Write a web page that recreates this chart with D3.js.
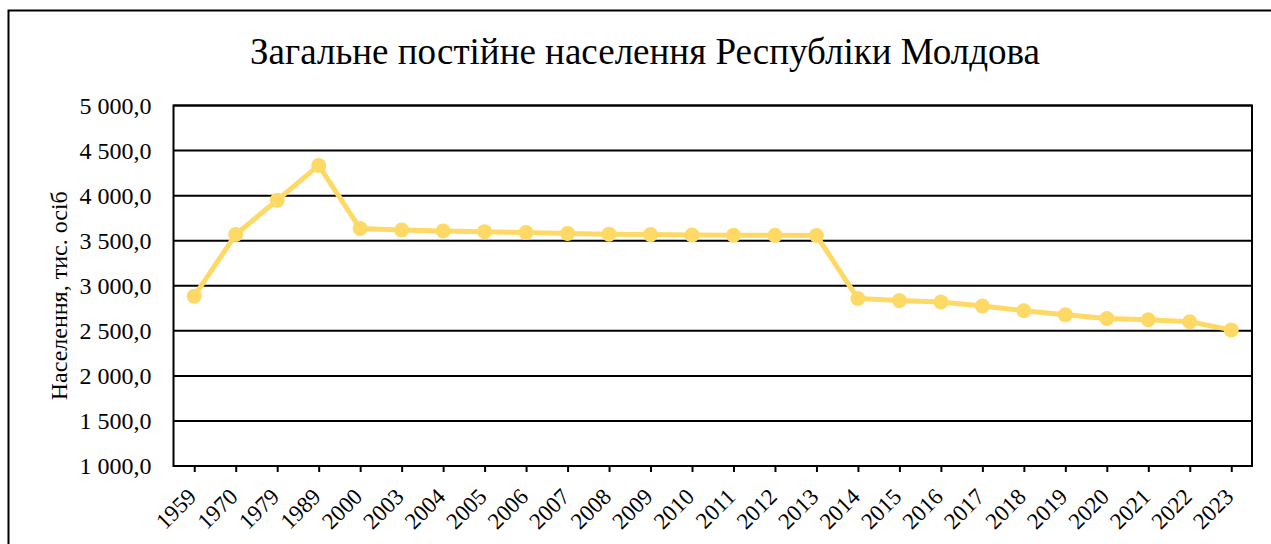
<!DOCTYPE html>
<html>
<head>
<meta charset="utf-8">
<script src="https://cdn.jsdelivr.net/npm/d3@7"></script>
<style>
  body { margin: 0; background: #fff; }
  svg { display: block; }
  svg text { font-family: "Liberation Serif", "Times New Roman", serif; }
</style>
</head>
<body>
<div id="chart"></div>
<script>
const WIDTH = 1271;
const HEIGHT = 544;

const TITLE = "Загальне постійне населення Республіки Молдова";
const Y_LABEL = "Населення, тис. осіб";

const years = [
  "1959", "1970", "1979", "1989", "2000", "2003", "2004", "2005", "2006",
  "2007", "2008", "2009", "2010", "2011", "2012", "2013", "2014", "2015",
  "2016", "2017", "2018", "2019", "2020", "2021", "2022", "2023"
];
const population = [
  2884.5, 3568.9, 3949.8, 4335.4, 3635.0, 3618.3, 3607.4, 3600.4, 3589.9,
  3581.1, 3572.7, 3567.5, 3563.7, 3560.4, 3559.5, 3557.6, 2857.8, 2835.0,
  2820.0, 2775.0, 2723.0, 2677.0, 2637.0, 2622.0, 2600.0, 2510.0
];
const yTicks = [1000, 1500, 2000, 2500, 3000, 3500, 4000, 4500, 5000];

const plot = { left: 173.5, right: 1252, top: 105.5, bottom: 466 };

const fmt = v => d3.format(",.1f")(v).replace(/,/g, " ").replace(".", ",");

const svg = d3.select("#chart").append("svg")
  .attr("width", WIDTH)
  .attr("height", HEIGHT);

// chart area border (runs off the right and bottom edges)
svg.append("rect")
  .attr("x", 8.5).attr("y", 10.5)
  .attr("width", WIDTH + 20).attr("height", HEIGHT + 20)
  .attr("fill", "#fff")
  .attr("stroke", "#000")
  .attr("stroke-width", 2);

const x = d3.scalePoint()
  .domain(years)
  .range([plot.left, plot.right])
  .padding(0.5);

const y = d3.scaleLinear()
  .domain([1000, 5000])
  .range([plot.bottom, plot.top]);

// title
svg.append("text")
  .attr("x", 645)
  .attr("y", 64)
  .attr("text-anchor", "middle")
  .attr("font-size", 37)
  .attr("fill", "#000")
  .text(TITLE);

// gridlines
svg.append("g")
  .selectAll("line")
  .data(yTicks)
  .join("line")
  .attr("x1", plot.left).attr("x2", plot.right)
  .attr("y1", d => y(d)).attr("y2", d => y(d))
  .attr("stroke", "#000")
  .attr("stroke-width", 2);

// y axis labels
const yAxis = svg.append("g")
  .attr("transform", `translate(${plot.left},0)`)
  .call(d3.axisLeft(y).tickValues(yTicks).tickSize(0).tickPadding(22).tickFormat(fmt));
yAxis.select(".domain").remove();
yAxis.attr("font-family", null).attr("font-size", null);
yAxis.selectAll("text")
  .attr("font-size", 24)
  .attr("fill", "#000");

// x axis
const xAxis = svg.append("g")
  .attr("transform", `translate(0,${plot.bottom})`)
  .call(d3.axisBottom(x).tickSize(6));
xAxis.select(".domain").remove();
xAxis.attr("font-family", null).attr("font-size", null);
xAxis.selectAll(".tick line").attr("stroke", "#000").attr("stroke-width", 2);
xAxis.selectAll("text")
  .attr("font-size", 23)
  .attr("fill", "#000")
  .attr("text-anchor", "end")
  .attr("x", 0)
  .attr("y", 0)
  .attr("dy", null)
  .attr("transform", "translate(3,32) rotate(-45)");

// plot border
svg.append("rect")
  .attr("x", plot.left).attr("y", plot.top)
  .attr("width", plot.right - plot.left)
  .attr("height", plot.bottom - plot.top)
  .attr("fill", "none")
  .attr("stroke", "#000")
  .attr("stroke-width", 2);

// y axis title
svg.append("text")
  .attr("transform", `translate(67,${(plot.top + plot.bottom) / 2 + 10}) rotate(-90)`)
  .attr("text-anchor", "middle")
  .attr("font-size", 24)
  .attr("fill", "#000")
  .text(Y_LABEL);

// series
const data = years.map((yr, i) => ({ yr, v: population[i] }));

svg.append("path")
  .datum(data)
  .attr("fill", "none")
  .attr("stroke", "#FFD966")
  .attr("stroke-width", 5)
  .attr("stroke-linejoin", "round")
  .attr("d", d3.line().x(d => x(d.yr)).y(d => y(d.v)));

svg.append("g")
  .selectAll("circle")
  .data(data)
  .join("circle")
  .attr("cx", d => x(d.yr))
  .attr("cy", d => y(d.v))
  .attr("r", 7.5)
  .attr("fill", "#FFD966");
</script>
</body>
</html>
